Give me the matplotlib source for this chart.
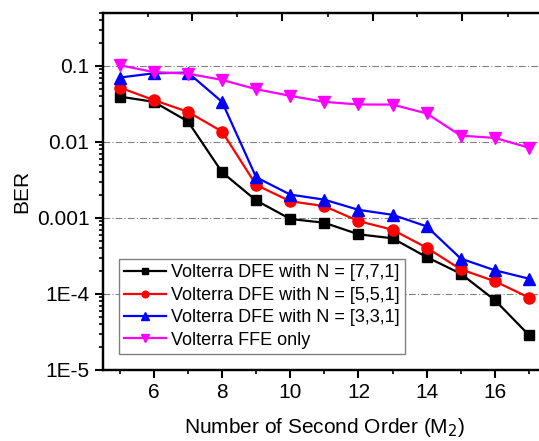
import matplotlib
matplotlib.use('Agg')
import matplotlib.pyplot as plt
from matplotlib.ticker import LogLocator, FixedLocator, NullFormatter

plt.rcParams['font.family'] = ['Liberation Sans', 'DejaVu Sans']

m2 = [5, 6, 7, 8, 9, 10, 11, 12, 13, 14, 15, 16, 17]
ber_771 = [0.0395, 0.0337, 0.0186, 0.0040, 0.0017, 0.00097, 0.000865, 0.00061,
           0.00054, 0.000306, 0.000185, 8.3e-5, 2.88e-5]
ber_551 = [0.052, 0.0355, 0.0249, 0.0137, 0.00272, 0.00166, 0.00143, 0.00091,
           0.0007, 0.000406, 0.000211, 0.000147, 8.97e-5]
ber_331 = [0.0703, 0.080, 0.0817, 0.0337, 0.00343, 0.00203, 0.00174, 0.00128,
           0.0011, 0.000775, 0.000292, 0.000205, 0.000159]
ber_ffe = [0.102, 0.083, 0.079, 0.0655, 0.0494, 0.0404, 0.0337, 0.0311,
           0.031, 0.0237, 0.0121, 0.0113, 0.0084]

labels = ['Volterra DFE with N = [7,7,1]', 'Volterra DFE with N = [5,5,1]',
          'Volterra DFE with N = [3,3,1]', 'Volterra FFE only']

fig = plt.figure(figsize=(5.39, 4.41), dpi=100)
ax = fig.add_axes([0.1905, 0.161, 0.8225, 0.810])

ax.plot(m2, ber_771, '-s', color='black', lw=1.6, ms=7, label=labels[0])
ax.plot(m2, ber_551, '-o', color='red', lw=1.6, ms=8, label=labels[1])
ax.plot(m2, ber_331, '-^', color='blue', lw=1.6, ms=8.5, label=labels[2])
ax.plot(m2, ber_ffe, '-v', color='magenta', lw=1.6, ms=8.5, label=labels[3])

ax.set_yscale('log')
ax.set_xlim(4.5, 17.5)
ax.set_ylim(1e-5, 0.5)

ax.set_yticks([1e-5, 1e-4, 1e-3, 1e-2, 1e-1])
ax.set_yticklabels(['1E-5', '1E-4', '0.001', '0.01', '0.1'])
ax.yaxis.set_minor_locator(LogLocator(base=10, subs=range(2, 10)))
ax.yaxis.set_minor_formatter(NullFormatter())
ax.set_xticks([6, 8, 10, 12, 14, 16])
ax.xaxis.set_minor_locator(FixedLocator([5, 7, 9, 11, 13, 15, 17]))

for yv in [1e-4, 1e-3, 1e-2, 1e-1]:
    ax.axhline(yv, color='gray', lw=0.8, ls=(0, (6, 2, 1, 2)), zorder=0)

for s in ax.spines.values():
    s.set_linewidth(1.6)
ax.tick_params(which='major', direction='out', length=6, width=1.5,
               labelsize=15, top=False, right=False)
ax.tick_params(which='minor', direction='out', length=3, width=1.2,
               top=False, right=False)

# top axis ticks (separate scale in original)
top = ax.twiny()
top.set_xlim(ax.get_xlim())
top.set_xticks([7.125, 9.76, 12.42, 15.04])
top.xaxis.set_minor_locator(FixedLocator([5.82, 8.45, 11.1, 13.73, 16.4]))
top.tick_params(which='major', direction='in', length=6, width=1.5, labeltop=False)
top.tick_params(which='minor', direction='in', length=3, width=1.2)
for s in top.spines.values():
    s.set_linewidth(1.6)

ax.set_ylabel('BER', fontsize=15, labelpad=4)
ax.set_xlabel('Number of Second Order (M$_2$)', fontsize=15, labelpad=10)

leg = ax.legend(loc='upper left', bbox_to_anchor=(119 / 539, 1 - 259 / 441),
                bbox_transform=fig.transFigure, fontsize=13, frameon=True,
                fancybox=False, edgecolor='gray', framealpha=1,
                borderaxespad=0, borderpad=0.3, labelspacing=0.3,
                handlelength=2.3, handletextpad=0.3, markerscale=0.6)
leg.get_frame().set_linewidth(1.0)

fig.savefig('out.png', dpi=100)
